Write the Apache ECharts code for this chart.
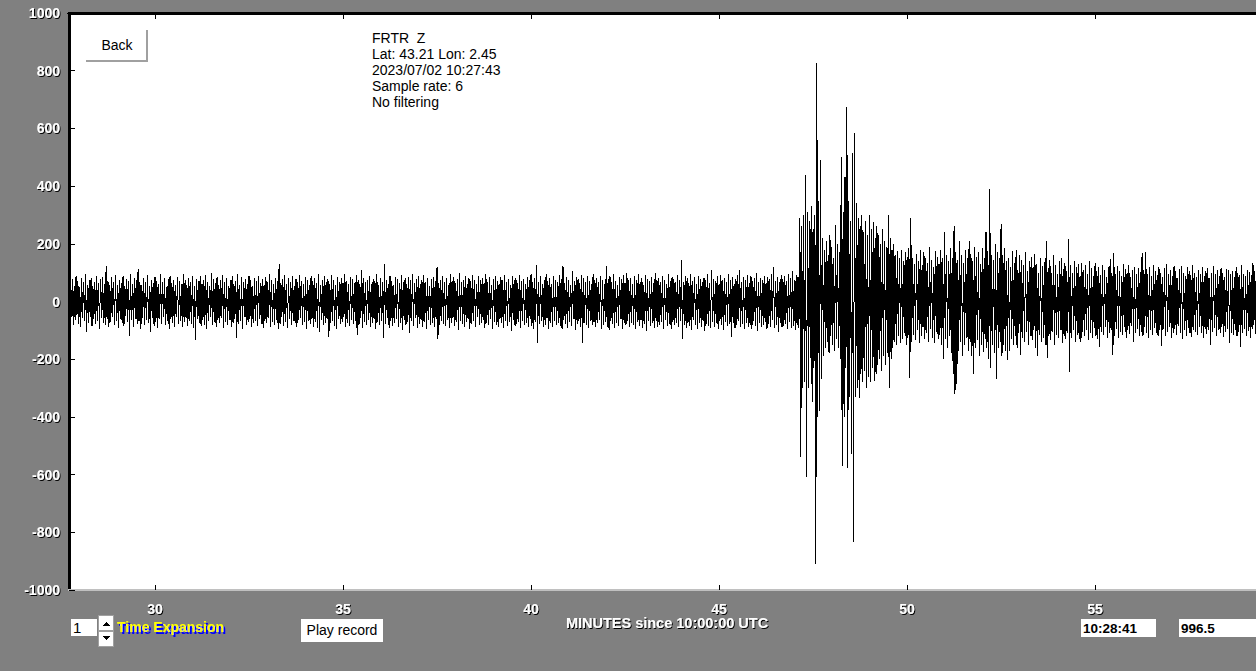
<!DOCTYPE html>
<html><head><meta charset="utf-8">
<script src="https://cdn.jsdelivr.net/npm/echarts@6/dist/echarts.min.js"></script>
<style>
html,body{margin:0;padding:0;background:#808080;overflow:hidden}
#c{width:1256px;height:671px}
#c svg path{shape-rendering:crispEdges}
#c svg text{filter:url(#shk)}
#c svg text[fill="#000"],#c svg text[fill="#000000"],#c svg text[fill="rgb(0,0,0)"],#c svg text[fill="black"]{filter:none}
#c svg text[fill="#ff0"],#c svg text[fill="#ffff00"],#c svg text[fill="rgb(255,255,0)"]{filter:url(#shb)}
</style>
</head><body>
<svg width="0" height="0" style="position:absolute"><defs>
<filter id="shk" x="-20%" y="-30%" width="140%" height="160%"><feDropShadow dx="1" dy="1" stdDeviation="0" flood-color="#000" flood-opacity="1"/></filter>
<filter id="shb" x="-20%" y="-30%" width="140%" height="160%"><feDropShadow dx="2" dy="2" stdDeviation="0" flood-color="#0000ff" flood-opacity="1"/></filter>
</defs></svg>
<div id="c"></div>
<script>
// Seismogram envelope: one upper and one lower peak per 0.05 minute bucket
const tStart = 27.7, tStep = 0.05;
const upperPeaks = [
115,62,78,55,88,70,49,83,66,95,58,74,81,52,69,90,63,77,85,60,
123,71,56,84,67,92,58,75,64,88,53,79,70,97,61,83,74,113,66,57,
80,69,91,54,76,63,86,72,59,94,68,81,50,77,89,65,73,58,84,70,
62,96,75,57,83,68,90,55,78,71,87,60,74,93,66,52,100,79,64,85,
58,76,92,67,81,54,73,89,62,70,95,57,84,69,78,61,88,74,53,82,
71,90,63,79,56,86,68,97,75,60,83,72,130,65,77,91,59,80,69,87,
54,78,66,93,72,61,85,76,58,89,70,82,64,96,57,74,88,67,79,62,
91,73,56,84,69,80,63,95,71,59,86,77,65,92,74,60,110,81,68,76,
87,62,79,70,94,58,83,66,130,75,61,89,72,57,85,78,64,93,69,80,
59,84,73,96,65,77,88,60,74,91,67,82,55,79,86,71,120,63,76,90,
68,81,57,94,72,85,63,78,99,66,74,87,59,83,70,92,76,61,88,73,
80,64,97,69,84,58,77,90,71,62,86,75,93,67,79,56,89,74,82,65,
91,70,78,60,85,73,96,66,81,125,68,87,62,76,94,71,83,59,88,74,
67,92,79,122,63,84,75,58,106,70,86,77,64,93,81,69,89,72,61,95,
76,83,66,90,74,60,122,79,87,68,94,72,57,85,78,91,65,100,73,82,
62,88,75,96,69,81,58,92,77,70,86,64,98,73,80,67,89,76,61,94,
71,84,79,66,91,74,143,68,87,80,63,95,72,85,59,90,77,69,83,75,
96,64,110,78,70,88,61,93,76,82,67,97,73,86,62,79,91,110,68,84,
75,92,65,87,71,80,98,69,83,74,90,63,86,78,95,120,72,84,66,91,
77,88,70,96,81,105,74,93,85,
290,260,300,440,310,280,330,250,300,826,
350,490,220,180,210,160,230,190,150,265,
200,170,500,310,430,673,350,280,515,583,
340,290,260,300,240,280,230,300,250,275,220,260,
230,200,250,210,190,300,220,180,200,160,
175,150,180,140,170,155,185,290,150,130,
165,140,180,125,170,150,135,190,145,120,
175,155,130,180,150,240,160,140,185,150,
260,170,145,210,160,135,180,150,210,165,
140,190,155,170,130,185,150,240,175,390,
160,145,200,170,150,270,160,185,140,
150,120,175,135,180,110,160,145,125,170,105,140,155,118,165,130,100,150,122,138,
210,115,145,100,160,128,95,140,150,112,135,105,217,125,98,142,118,130,90,135,
108,125,95,140,115,88,132,104,120,92,128,110,85,118,147,100,167,95,122,106,
90,130,112,98,125,86,108,120,94,115,102,167,110,170,96,118,88,128,105,92,
120,100,85,115,130,95,108,90,122,104,80,112,123,98,88,118,106,92,125,100,
85,110,96,120,90,105,115,82,100,124,94,108,88,116,98,84,112,110,95,104,
86,118,100,92,125,97,88,110,102,93,135,105
];
const lowerPeaks = [
-70,-55,-82,-63,-48,-77,-90,-58,-66,-105,-73,-52,-85,-61,-79,-68,-94,-57,-74,-83,
-62,-88,-71,-54,-80,-67,-92,-59,-76,-84,-50,-72,-118,-65,-87,-60,-78,-69,-95,-56,
-81,-64,-73,-107,-58,-86,-70,-91,-62,-77,-55,-83,-68,-96,-61,-75,-88,-53,-79,-66,
-90,-72,-57,-84,-69,-78,-93,-133,-60,-74,-86,-63,-80,-97,-67,-52,-82,-71,-89,-64,
-76,-58,-92,-70,-81,-65,-87,-73,-60,-125,-78,-68,-94,-55,-83,-72,-61,-90,-75,-66,
-85,-59,-79,-93,-67,-74,-56,-88,-70,-82,-63,-96,-77,-54,-86,-71,-91,-62,-80,-68,
-75,-89,-64,-57,-83,-72,-94,-66,-78,-61,-87,-70,-92,-107,-65,-81,-73,-59,-123,-76,
-68,-84,-97,-62,-79,-71,-55,-90,-74,-86,-63,-77,-69,-115,-82,-58,-93,-72,-80,-65,
-88,-74,-60,-95,-70,-83,-66,-125,-78,-57,-91,-69,-84,-73,-62,-89,-76,-99,-64,-81,
-72,-110,-67,-85,-58,-93,-77,-63,-88,-71,-96,-65,-80,-74,-90,-61,-130,-83,-69,-78,
-86,-63,-92,-75,-57,-84,-70,-98,-66,-79,-89,-72,-60,-94,-77,-68,-87,-55,-81,-74,
-65,-91,-76,-83,-62,-97,-71,-80,-88,-59,-75,-93,-68,-84,-72,-101,-64,-86,-78,-70,
-92,-67,-80,-74,-89,-61,-85,-96,-72,-145,-78,-66,-90,-83,-58,-94,-75,-87,-69,-81,
-73,-86,-95,-64,-79,-91,-70,-84,-62,-98,-77,-68,-88,-145,-74,-82,-93,-66,-80,-71,
-89,-75,-63,-94,-81,-70,-87,-99,-67,-78,-92,-73,-85,-60,-96,-76,-83,-69,-90,-74,
-82,-95,-71,-86,-64,-91,-78,-103,-69,-84,-75,-93,-66,-88,-80,-72,-97,-63,-85,-77,
-94,-70,-83,-76,-89,-67,-130,-80,-92,-73,-86,-98,-65,-81,-95,-74,-87,-69,-102,-78,
-84,-91,-72,-88,-76,-95,-68,-83,-99,-71,-86,-79,-122,-74,-93,-82,-67,-90,-77,-96,
-73,-87,-80,-94,-69,-85,-101,-76,-90,-83,-72,-97,-78,-88,-65,-93,-81,-104,-75,-89,
-84,-77,-95,-70,-91,-86,-99,-80,-92,
-540,-300,-280,-610,-300,-195,-350,-230,-910,-400,
-380,-270,-190,-160,-140,-180,-120,-150,-170,-130,
-160,-200,-570,-400,-230,-576,-330,-530,-835,-330,
-300,-333,-250,-280,-240,-300,-260,-280,-230,-274,-250,-220,
-200,-240,-190,-220,-180,-300,-200,-160,-140,-150,
-120,-145,-130,-110,-150,-125,-265,-140,-115,-135,
-100,-145,-120,-90,-130,-110,-140,-95,-125,-145,
-105,-130,-115,-150,-200,-130,-160,-120,-180,-250,
-320,-285,-170,-140,-190,-150,-125,-170,-140,-190,
-250,-160,-135,-190,-150,-175,-130,-160,-200,-230,
-150,-180,-270,-160,-140,-190,-150,-170,-203,
-170,-130,-150,-120,-160,-110,-185,-125,-140,-105,-150,-120,-135,-100,-160,-190,-115,-140,-125,-150,
-197,-120,-135,-105,-150,-115,-128,-100,-145,-118,-130,-110,-243,-125,-100,-140,-115,-130,-140,-105,
-120,-98,-135,-110,-125,-92,-118,-130,-157,-105,-115,-88,-125,-110,-100,-185,-118,-95,-128,-104,
-115,-90,-125,-100,-112,-85,-139,-108,-96,-120,-105,-118,-88,-110,-125,-98,-115,-92,-108,-120,
-100,-153,-95,-118,-105,-88,-125,-110,-96,-115,-85,-108,-130,-100,-118,-92,-110,-124,-98,-105,
-115,-90,-108,-125,-96,-112,-100,-150,-105,-92,-118,-100,-110,-88,-122,-104,-96,-145,-108,-115,
-98,-120,-105,-157,-110,-94,-118,-102,-125,-96,-80,-112
];
const xTickLabels = [30, 35, 40, 45, 50, 55];
const yTickLabels = [-1000, -800, -600, -400, -200, 0, 200, 400, 600, 800, 1000];
const stationInfo = ['FRTR  Z', 'Lat: 43.21 Lon: 2.45', '2023/07/02 10:27:43', 'Sample rate: 6', 'No filtering'];
const xAxisTitle = 'MINUTES since 10:00:00 UTC';
const expansionValue = '1';
const cursorTime = '10:28:41';
const cursorValue = '996.5';

const trace = [];
for (let i = 0; i < upperPeaks.length; i++) {
  const t = tStart + i * tStep;
  trace.push([t, upperPeaks[i]]);
  trace.push([t + tStep / 2, lowerPeaks[i]]);
}

const FF = '"Liberation Sans", Arial, sans-serif';
const WHITE = '#fefefe';
const chart = echarts.init(document.getElementById('c'), null, {renderer: 'svg'});
const labelStyle = {color: WHITE, fontFamily: FF, fontWeight: 'bold', fontSize: 14};

const graphics = [
  {type: 'rect', shape: {x: 86, y: 30, width: 62, height: 32}, style: {fill: '#fff'}},
  {type: 'polyline', shape: {points: [[86, 61], [147, 61], [147, 30]]}, style: {stroke: '#a0a0a0', lineWidth: 2, fill: null}},
  {type: 'text', x: 117, y: 45, style: {text: 'Back', font: '14px ' + FF, fill: '#000', align: 'center', verticalAlign: 'middle'}},
  {type: 'rect', shape: {x: 71, y: 619, width: 26, height: 17}, style: {fill: '#fff'}},
  {type: 'text', x: 73, y: 627.5, style: {text: expansionValue, font: '15px ' + FF, fill: '#000', verticalAlign: 'middle'}},
  {type: 'rect', shape: {x: 98, y: 615, width: 15, height: 15}, style: {fill: '#fff', stroke: '#a0a0a0', lineWidth: 1}},
  {type: 'polygon', shape: {points: [[103, 626], [110, 626], [106.5, 622]]}, style: {fill: '#000'}},
  {type: 'rect', shape: {x: 98, y: 631, width: 15, height: 15}, style: {fill: '#fff', stroke: '#a0a0a0', lineWidth: 1}},
  {type: 'polygon', shape: {points: [[103, 636], [110, 636], [106.5, 640]]}, style: {fill: '#000'}},
  {type: 'text', x: 117, y: 627, style: {text: 'Time Expansion', font: 'bold 14px ' + FF, fill: '#ffff00', verticalAlign: 'middle'}},
  {type: 'rect', shape: {x: 301, y: 619, width: 82, height: 23}, style: {fill: '#fff'}},
  {type: 'text', x: 342, y: 630, style: {text: 'Play record', font: '14px ' + FF, fill: '#000', align: 'center', verticalAlign: 'middle'}},
  {type: 'text', x: 667, y: 623, style: {text: xAxisTitle, font: 'bold 14.5px ' + FF, fill: WHITE, align: 'center', verticalAlign: 'middle'}},
  {type: 'rect', shape: {x: 1081, y: 619, width: 75, height: 18}, style: {fill: '#fff'}},
  {type: 'text', x: 1083, y: 628, style: {text: cursorTime, font: 'bold 13.5px ' + FF, fill: '#000', verticalAlign: 'middle'}},
  {type: 'rect', shape: {x: 1179, y: 619, width: 77, height: 18}, style: {fill: '#fff'}},
  {type: 'text', x: 1181, y: 628, style: {text: cursorValue, font: 'bold 13.5px ' + FF, fill: '#000', verticalAlign: 'middle'}}
];
stationInfo.forEach((line, i) => {
  graphics.push({type: 'text', x: 372, y: 38 + i * 16, style: {text: line, font: '14px ' + FF, fill: '#000', verticalAlign: 'middle'}});
});

chart.setOption({
  backgroundColor: '#808080',
  animation: false,
  grid: {left: 69, right: 0, top: 13, bottom: 81, show: true, backgroundColor: '#fff', borderWidth: 0},
  xAxis: [{
    type: 'value', min: 27.713, max: 59.28, position: 'bottom',
    axisLine: {show: true, onZero: false, lineStyle: {color: '#c0c0c0', width: 2}},
    axisTick: {show: true, inside: true, length: 5, lineStyle: {color: '#000', width: 1}},
    axisLabel: Object.assign({margin: 12, showMinLabel: false, showMaxLabel: false,
      formatter: v => xTickLabels.indexOf(Math.round(v * 1000) / 1000) >= 0 ? String(v) : ''}, labelStyle),
    splitLine: {show: false}
  }, {
    type: 'value', min: 27.713, max: 59.28, position: 'top',
    axisLine: {show: true, onZero: false, lineStyle: {color: '#000', width: 3}},
    axisTick: {show: true, inside: true, length: 6, lineStyle: {color: '#000', width: 1}},
    axisLabel: {show: false}, splitLine: {show: false}
  }],
  yAxis: {
    type: 'value', min: -1000, max: 1000, interval: 200,
    axisLine: {show: true, onZero: false, lineStyle: {color: '#000', width: 3}},
    axisTick: {show: true, inside: true, length: 6, lineStyle: {color: '#000', width: 1}},
    axisLabel: Object.assign({margin: 9, formatter: v => yTickLabels.indexOf(v) >= 0 ? String(v) : ''}, labelStyle),
    splitLine: {show: false}
  },
  series: [{
    type: 'line', data: trace, showSymbol: false, symbol: 'none', silent: true,
    lineStyle: {color: '#000', width: 1}, clip: true
  }],
  graphic: graphics
});
</script></body></html>
